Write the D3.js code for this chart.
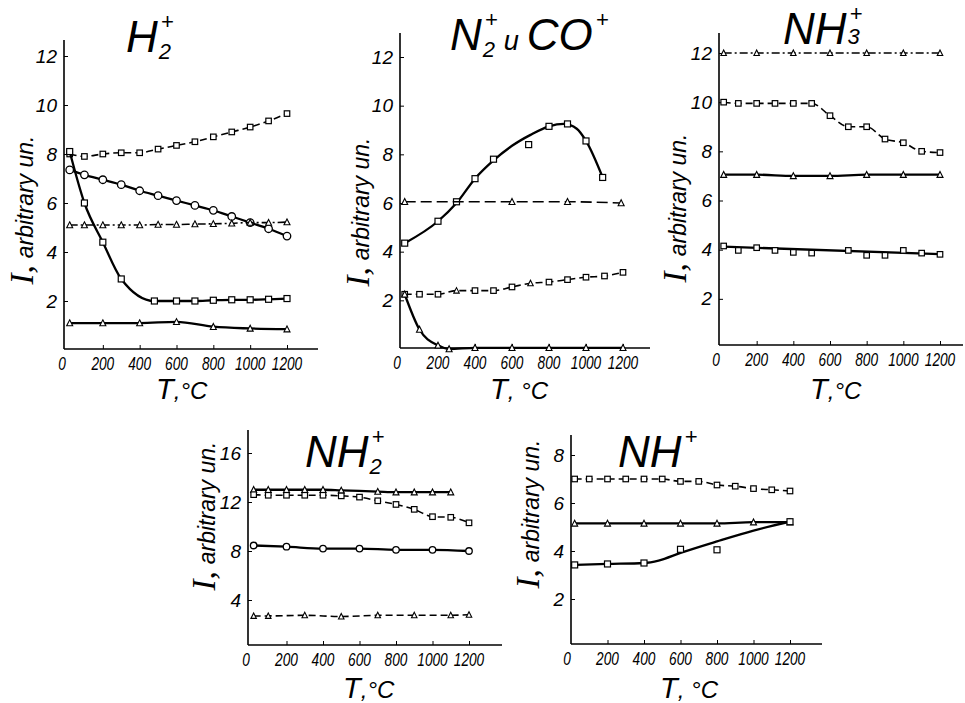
<!DOCTYPE html>
<html>
<head>
<meta charset="utf-8">
<script src="https://cdn.jsdelivr.net/npm/d3@7"></script>
<style>
body { margin: 0; background: #fff; }
svg text { font-family: "Liberation Sans", "DejaVu Sans", sans-serif; font-style: italic; fill: #000; }
</style>
</head>
<body>
<script>
// temperature grids, deg C
var T_full = [20, 100, 200, 300, 400, 500, 600, 700, 800, 900, 1000, 1100, 1200];
var T_even = [20, 200, 400, 600, 800, 1000, 1200];
var x_ticks = [0, 200, 400, 600, 800, 1000, 1200];

// H2+
var h2_sqdash = [8.0, 7.9, 8.0, 8.05, 8.05, 8.2, 8.35, 8.5, 8.7, 8.9, 9.1, 9.35, 9.65];
var h2_circ = [7.35, 7.15, 6.95, 6.75, 6.5, 6.3, 6.1, 5.9, 5.7, 5.45, 5.2, 4.95, 4.65];
var h2_tridash = [5.1, 5.1, 5.1, 5.1, 5.1, 5.12, 5.12, 5.14, 5.15, 5.17, 5.2, 5.2, 5.22];
var h2_sq_T = [20, 100, 200, 300, 480, 600, 700, 800, 900, 1000, 1100, 1200];
var h2_sq = [8.1, 6.0, 4.4, 2.9, 2.0, 2.0, 2.0, 2.03, 2.05, 2.05, 2.07, 2.1];
var h2_tri = [1.1, 1.1, 1.1, 1.15, 0.95, 0.88, 0.85];

// N2+ and CO+
var co_sq_T = [20, 200, 300, 400, 500, 690, 800, 900, 1000, 1090];
var co_sq = [4.35, 5.25, 6.05, 7.0, 7.8, 8.4, 9.15, 9.25, 8.55, 7.05];
var co_fit_T = [20, 200, 300, 400, 500, 600, 700, 800, 880, 950, 1000, 1090];
var co_fit = [4.35, 5.25, 6.0, 7.0, 7.75, 8.35, 8.8, 9.15, 9.25, 9.05, 8.55, 7.05];
var co_tri6_T = [20, 600, 900, 1190];
var co_tri6 = [6.05, 6.05, 6.05, 6.0];
var co_mix = [2.25, 2.25, 2.25, 2.4, 2.4, 2.4, 2.55, 2.7, 2.75, 2.85, 2.95, 3.0, 3.15];
var co_mix_mark = ["s", "s", "s", "t", "s", "s", "s", "t", "s", "s", "s", "s", "s"];
var co_tri_T = [20, 100, 200, 260, 400, 600, 800, 1000, 1200];
var co_tri = [2.25, 0.8, 0.15, 0.0, 0.05, 0.05, 0.05, 0.05, 0.05];

// NH3+
var nh3_tritop = [12, 12, 12, 12, 12, 12, 12];
var nh3_sqdash = [10, 9.95, 9.95, 9.95, 9.95, 9.95, 9.45, 9.0, 9.0, 8.5, 8.35, 8.0, 7.95];
var nh3_tri = [7.05, 7.05, 7.0, 7.0, 7.05, 7.05, 7.05];
var nh3_sq_T = [20, 100, 200, 300, 400, 500, 700, 800, 900, 1000, 1100, 1200];
var nh3_sq = [4.15, 3.97, 4.08, 3.97, 3.89, 3.86, 3.97, 3.77, 3.77, 3.97, 3.86, 3.81];
var nh3_fit_T = [20, 1200];
var nh3_fit = [4.12, 3.82];

// NH2+
var nh2_tri_T = [20, 100, 200, 300, 400, 500, 700, 800, 900, 1000, 1100];
var nh2_tri = [13.0, 13.0, 13.0, 13.0, 13.0, 12.95, 12.85, 12.8, 12.8, 12.8, 12.8];
var nh2_sqdash = [12.6, 12.55, 12.55, 12.55, 12.55, 12.5, 12.4, 12.1, 11.8, 11.4, 10.8, 10.75, 10.3];
var nh2_circ = [8.45, 8.35, 8.2, 8.2, 8.1, 8.1, 8.0];
var nh2_tridash_T = [20, 100, 300, 500, 700, 900, 1100, 1200];
var nh2_tridash = [2.7, 2.7, 2.75, 2.65, 2.75, 2.75, 2.75, 2.8];

// NH+
var nh_sqdash = [7.0, 7.0, 7.0, 7.0, 7.0, 7.0, 6.9, 6.9, 6.75, 6.7, 6.6, 6.55, 6.5];
var nh_tri = [5.15, 5.15, 5.15, 5.15, 5.15, 5.2, 5.2];
var nh_sq_T = [20, 200, 400, 600, 800, 1200];
var nh_sq = [3.42, 3.46, 3.5, 4.07, 4.05, 5.22];
var nh_fit_T = [20, 200, 400, 480, 600, 800, 1000, 1200];
var nh_fit = [3.42, 3.46, 3.5, 3.6, 3.92, 4.4, 4.85, 5.22];

var svg = d3.select("body").append("svg").attr("width", 965).attr("height", 703);

var DASH = "7,4", DASHDOT = "8,3,2,3";

function zip(T, v, marks) {
	return T.map(function(t, i) { return { t: t, v: v[i], m: marks ? marks[i] : null }; });
}

function marker(g, x, y, kind, size) {
	var s = size || 6;
	if (kind == "s") {
		g.append("rect").attr("x", x - s / 2).attr("y", y - s / 2).attr("width", s).attr("height", s)
			.attr("fill", "#fff").attr("stroke", "#000").attr("stroke-width", 1.2);
	} else if (kind == "c") {
		g.append("circle").attr("cx", x).attr("cy", y).attr("r", s / 2 + 0.5)
			.attr("fill", "#fff").attr("stroke", "#000").attr("stroke-width", 1.3);
	} else if (kind == "t") {
		var h = s * 0.9;
		g.append("path").attr("d", "M" + x + "," + (y - h / 2 - 0.5) + "L" + (x + s / 2) + "," + (y + h / 2) + "L" + (x - s / 2) + "," + (y + h / 2) + "Z")
			.attr("fill", "#fff").attr("stroke", "#000").attr("stroke-width", 1.1);
	}
}

// ion formula: base letters, then a subscript and a superscript stacked after them
function title(x, y, parts, size) {
	var cx = x;
	parts.forEach(function(p) {
		cx += p.gap || 0;
		var fs = p.small ? size * 0.62 : size;
		var t = svg.append("text").attr("x", cx).attr("y", y).attr("font-size", fs).text(p.b);
		cx += t.node().getComputedTextLength();
		var w = 0;
		if (p.sub) {
			var s = svg.append("text").attr("x", cx + 1).attr("y", y + (p.subDy != null ? p.subDy : size * 0.16))
				.attr("font-size", size * 0.5).text(p.sub);
			w = Math.max(w, s.node().getComputedTextLength() + 1);
		}
		if (p.sup) {
			var u = svg.append("text").attr("x", cx + 3).attr("y", y - size * 0.52).attr("font-size", size * 0.5).text(p.sup);
			w = Math.max(w, u.node().getComputedTextLength() + 3);
		}
		cx += w + (p.after || 0);
	});
}

function panel(cfg) {
	var g = svg.append("g");
	var x = d3.scaleLinear().domain([0, 1200]).range(cfg.xr);
	var y = d3.scaleLinear().domain([0, cfg.ymax]).range(cfg.yr);

	// axis lines
	g.append("line").attr("x1", cfg.ax).attr("x2", cfg.ax).attr("y1", cfg.top).attr("y2", cfg.bottom)
		.attr("stroke", "#000").attr("stroke-width", 1.6);
	g.append("line").attr("x1", cfg.ax).attr("x2", cfg.xend).attr("y1", cfg.bottom).attr("y2", cfg.bottom)
		.attr("stroke", "#000").attr("stroke-width", 1.6);

	var ya = g.append("g").attr("transform", "translate(" + cfg.ax + ",0)")
		.call(d3.axisLeft(y).tickValues(cfg.yticks).tickSize(-4).tickPadding(7).tickFormat(d3.format("d")));
	ya.select(".domain").remove();
	ya.selectAll("text").attr("font-size", 19).attr("font-family", null);
	var xa = g.append("g").attr("transform", "translate(0," + cfg.bottom + ")")
		.call(d3.axisBottom(x).tickValues(x_ticks.slice(1)).tickSize(-4).tickPadding(7).tickFormat(d3.format("d")));
	xa.select(".domain").remove();
	xa.selectAll("text").remove();
	x_ticks.forEach(function(t) {
		var s = String(t);
		g.append("text").attr("x", x(t) - (t == 0 ? 4 : 0)).attr("y", cfg.bottom + 21)
			.attr("text-anchor", "middle").attr("font-size", 18)
			.attr("textLength", s.length * 7.6).attr("lengthAdjust", "spacingAndGlyphs").text(s);
	});
	g.selectAll(".tick line").attr("stroke", "#000").attr("stroke-width", 1);

	var line = d3.line().x(function(d) { return x(d.t); }).y(function(d) { return y(d.v); }).curve(d3.curveMonotoneX);

	cfg.series.forEach(function(s) {
		var pts = zip(s.T, s.v, s.marks);
		var lp = s.fitT ? zip(s.fitT, s.fit) : pts;
		g.append("path").attr("d", line(lp)).attr("fill", "none").attr("stroke", "#000")
			.attr("stroke-width", s.dash ? 1.6 : 2.3).attr("stroke-dasharray", s.dash || null);
		pts.forEach(function(d) { marker(g, x(d.t), y(d.v), d.m || s.mark, s.size); });
	});

	// y label
	var yl = svg.append("text").attr("transform", "translate(" + cfg.yl[0] + "," + cfg.yl[1] + ") rotate(-90)")
		.attr("text-anchor", "middle");
	yl.append("tspan").attr("font-size", 33).attr("font-family", "Liberation Serif, serif").text("I,");
	yl.append("tspan").attr("font-size", 23).attr("dx", 7).text("arbitrary un.");

	// x label
	var xl = svg.append("text").attr("x", cfg.xl[0]).attr("y", cfg.xl[1]);
	xl.append("tspan").attr("font-size", 29).text("T");
	xl.append("tspan").attr("font-size", 24).text(cfg.xlt);

	title(cfg.title[0], cfg.title[1], cfg.titleParts, cfg.tsize || 44);
}

panel({
	ax: 64, top: 40, bottom: 349, xend: 318, xr: [66, 287], ymax: 12, yr: [350, 56], yticks: [2, 4, 6, 8, 10, 12],
	yl: [33, 210], xl: [156, 399], xlt: ",°C",
	title: [126, 52], titleParts: [{ b: "H", sub: "2", sup: "+" }],
	series: [
		{ T: T_full, v: h2_sqdash, mark: "s", dash: DASH, size: 5.5 },
		{ T: T_full, v: h2_circ, mark: "c", size: 6.5 },
		{ T: T_full, v: h2_tridash, mark: "t", dash: DASHDOT, size: 6 },
		{ T: h2_sq_T, v: h2_sq, mark: "s", size: 6 },
		{ T: T_even, v: h2_tri, mark: "t", size: 6 }
	]
});

panel({
	ax: 400, top: 33, bottom: 348, xend: 650, xr: [401, 623], ymax: 12, yr: [349, 57], yticks: [2, 4, 6, 8, 10, 12],
	yl: [369, 212], xl: [490, 399], xlt: ", °C",
	title: [450, 50], titleParts: [{ b: "N", sub: "2", sup: "+", after: 6 }, { b: "и", small: true, after: 8 }, { b: "CO", sup: "+" }],
	series: [
		{ T: co_sq_T, v: co_sq, fitT: co_fit_T, fit: co_fit, mark: "s", size: 6 },
		{ T: co_tri6_T, v: co_tri6, mark: "t", dash: "11,5", size: 6 },
		{ T: T_full, v: co_mix, marks: co_mix_mark, mark: "s", dash: DASH, size: 5.5 },
		{ T: co_tri_T, v: co_tri, mark: "t", size: 6 }
	]
});

panel({
	ax: 719, top: 33, bottom: 345, xend: 963, xr: [720, 940], ymax: 12, yr: [348, 53], yticks: [2, 4, 6, 8, 10, 12],
	yl: [686, 208], xl: [810, 399], xlt: ",°C",
	title: [783, 44], titleParts: [{ b: "NH", sub: "3", sup: "+", subDy: 0 }],
	series: [
		{ T: T_even, v: nh3_tritop, mark: "t", dash: DASHDOT, size: 5.5 },
		{ T: T_full, v: nh3_sqdash, mark: "s", dash: DASH, size: 5.5 },
		{ T: T_even, v: nh3_tri, mark: "t", size: 6 },
		{ T: nh3_sq_T, v: nh3_sq, fitT: nh3_fit_T, fit: nh3_fit, mark: "s", size: 5.5 }
	]
});

panel({
	ax: 248, top: 430, bottom: 645, xend: 502, xr: [250, 469], ymax: 16, yr: [649, 453], yticks: [4, 8, 12, 16],
	yl: [215, 516], xl: [343, 698], xlt: ",°C",
	title: [305, 467], titleParts: [{ b: "NH", sub: "2", sup: "+" }],
	series: [
		{ T: nh2_tri_T, v: nh2_tri, mark: "t", size: 6 },
		{ T: T_full, v: nh2_sqdash, mark: "s", dash: DASH, size: 5.5 },
		{ T: T_even, v: nh2_circ, mark: "c", size: 5.5 },
		{ T: nh2_tridash_T, v: nh2_tridash, mark: "t", dash: DASH, size: 5.5 }
	]
});

panel({
	ax: 571, top: 435, bottom: 644, xend: 822, xr: [571, 790], ymax: 8, yr: [647, 455], yticks: [2, 4, 6, 8],
	yl: [539, 514], xl: [660, 698], xlt: ", °C",
	title: [618, 467], titleParts: [{ b: "NH", sup: "+" }],
	series: [
		{ T: T_full, v: nh_sqdash, mark: "s", dash: DASH, size: 5.5 },
		{ T: T_even, v: nh_tri, mark: "t", size: 6 },
		{ T: nh_sq_T, v: nh_sq, fitT: nh_fit_T, fit: nh_fit, mark: "s", size: 6 }
	]
});
</script>
</body>
</html>
